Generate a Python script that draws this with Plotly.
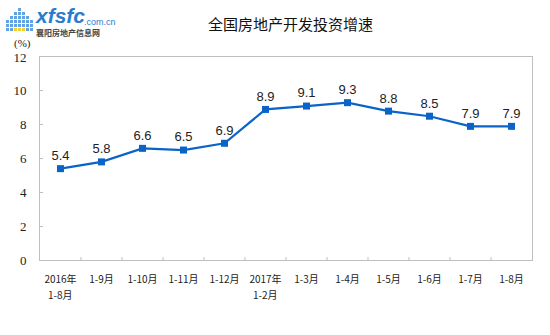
import plotly.graph_objects as go

categories = ["2016年<br>1-8月", "1-9月", "1-10月", "1-11月", "1-12月", "2017年<br>1-2月",
              "1-3月", "1-4月", "1-5月", "1-6月", "1-7月", "1-8月"]
growth = [5.4, 5.8, 6.6, 6.5, 6.9, 8.9, 9.1, 9.3, 8.8, 8.5, 7.9, 7.9]
y_ticks = [0, 2, 4, 6, 8, 10, 12]

x_idx = list(range(len(categories)))
first_lines = [c.split("<br>")[0] for c in categories]
second_lines = [c.split("<br>")[1] if "<br>" in c else "" for c in categories]

fig = go.Figure()
fig.add_trace(go.Scatter(
    x=x_idx, y=growth,
    mode="lines+markers+text",
    line=dict(color="#0A64C8", width=2.2),
    marker=dict(symbol="square", size=7, color="#0A64C8"),
    text=[f"{v:.1f}" for v in growth],
    textposition="top center",
    textfont=dict(family="Liberation Sans, Arial", size=13, color="#222222"),
    cliponaxis=False,
    hoverinfo="skip",
))

fig.update_layout(
    width=550, height=335,
    margin=dict(l=40, r=18, t=57, b=75),
    paper_bgcolor="white", plot_bgcolor="white",
    showlegend=False,
    title=dict(text="全国房地产开发投资增速", x=0.528, xanchor="center", y=0.925, yanchor="middle",
               font=dict(family="Noto Sans CJK SC", size=15, color="#111111")),
    xaxis=dict(
        range=[-0.5, len(categories) - 0.5],
        tickmode="array", tickvals=x_idx, ticktext=first_lines,
        showgrid=False, zeroline=False,
        showline=True, linecolor="#BFBFBF", linewidth=1, mirror=True,
        ticks="", ticklabelstandoff=10,
        tickfont=dict(family="Noto Sans CJK SC", size=10, color="#222222"),
    ),
    yaxis=dict(
        range=[0, 12], tickvals=y_ticks,
        showgrid=False, zeroline=False,
        showline=True, linecolor="#BFBFBF", linewidth=1, mirror=True,
        ticks="inside", ticklen=3, tickcolor="#BFBFBF",
        ticklabelstandoff=10,
        tickfont=dict(family="Liberation Serif", size=13, color="#222222"),
    ),
)

PX0, PY0, PW, PH = 40, 260, 492, 203


def px(x):
    return (x - PX0) / PW


def py(y):
    return (PY0 - y) / PH


# second lines of the two-line category labels
for i, s in zip(x_idx, second_lines):
    if s:
        fig.add_annotation(text=s, xref="x", yref="paper", x=i, y=py(294), xanchor="center",
                           yanchor="middle", showarrow=False,
                           font=dict(family="Noto Sans CJK SC", size=10, color="#222222"))

# category separator ticks on the x axis (inside)
for i in range(1, len(categories)):
    fig.add_shape(type="line", xref="x", yref="paper", x0=i - 0.5, x1=i - 0.5, y0=0, y1=0.015,
                  line=dict(color="#BFBFBF", width=1))

# unit label
fig.add_annotation(text="(%)", xref="paper", yref="paper", x=px(22), y=py(43), xanchor="center",
                   yanchor="middle", showarrow=False,
                   font=dict(family="Liberation Serif", size=11, color="#222222"))

# watermark logo
for r in range(6):
    for c in range(7):
        if c < 3 - r or c > 3 + r:
            continue
        fig.add_shape(type="rect", xref="paper", yref="paper",
                      x0=px(6 + c * 4), x1=px(9 + c * 4),
                      y0=py(8 + r * 4 + 3), y1=py(8 + r * 4),
                      fillcolor="#F2C200" if (r == 5 and 2 <= c <= 4) else "#3C8CDC",
                      line=dict(width=0), opacity=0.8)
fig.add_annotation(text="<b><i>xfsfc</i></b>", xref="paper", yref="paper",
                   x=px(33), y=py(16), xanchor="left", yanchor="middle",
                   showarrow=False, font=dict(family="Liberation Sans", size=21, color="#2A7BD0"))
fig.add_annotation(text=".com.cn", xref="paper", yref="paper",
                   x=px(82), y=py(22), xanchor="left", yanchor="middle",
                   showarrow=False, font=dict(family="Liberation Sans", size=9, color="#2A7BD0"))
fig.add_annotation(text="<b>襄阳房地产信息网</b>", xref="paper", yref="paper",
                   x=px(34), y=py(32), xanchor="left", yanchor="middle",
                   showarrow=False, font=dict(family="Noto Sans CJK SC", size=8, color="#444444"))

fig.write_html("out.html")
